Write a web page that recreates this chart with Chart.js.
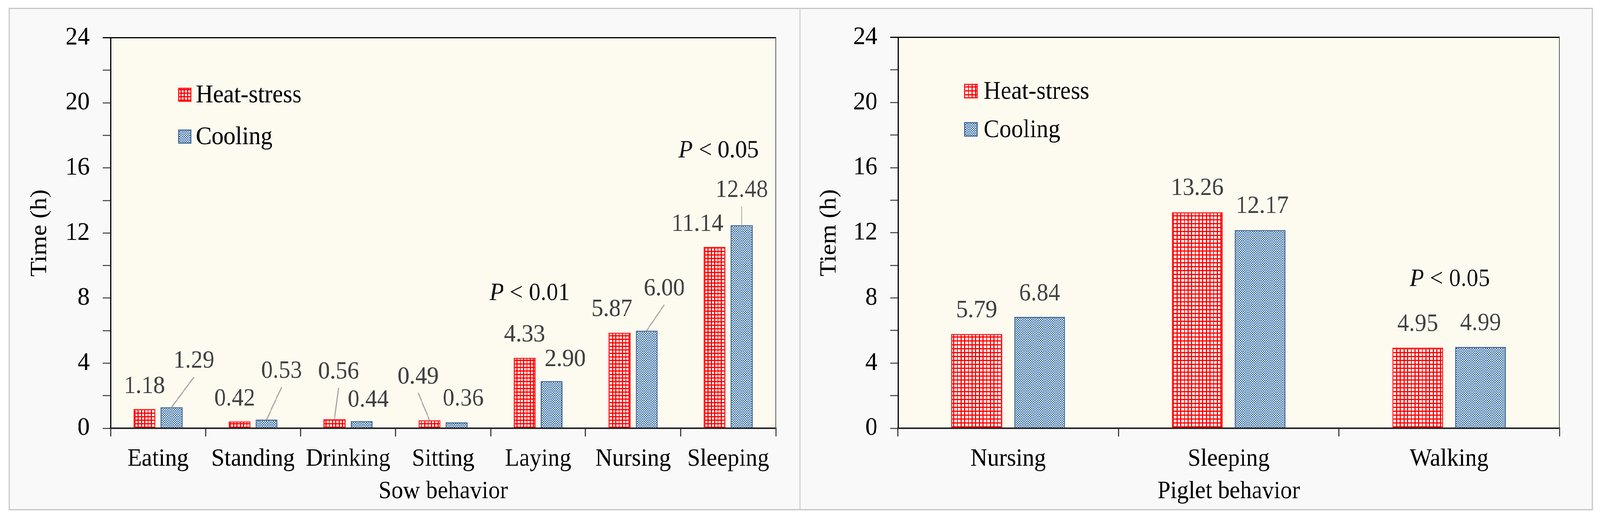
<!DOCTYPE html>
<html>
<head>
<meta charset="utf-8">
<script src="https://cdn.jsdelivr.net/npm/chart.js@4/dist/chart.umd.min.js"></script>
<style>
html,body{margin:0;padding:0;background:#ffffff;overflow:hidden;}
#stage{position:absolute;left:0;top:0;width:4371px;height:1336px;transform-origin:0 0;background:#ffffff;}
.panel{position:absolute;box-sizing:border-box;border:3px solid #c4c4c4;background:#f9f9f9;}
canvas{position:absolute;}
</style>
</head>
<body>
<div id="stage">
<div class="panel" style="left:24px;top:20px;width:2163px;height:1286px"></div>
<div class="panel" style="left:2184px;top:20px;width:2168px;height:1286px"></div>
<canvas id="sow" width="2161" height="1283" style="left:25px;top:21px"></canvas>
<canvas id="piglet" width="2166" height="1283" style="left:2184px;top:21px"></canvas>
</div>
<script>
// ---------------- data ----------------
const seriesNames = ['Heat-stress', 'Cooling'];
const sowCategories = ['Eating', 'Standing', 'Drinking', 'Sitting', 'Laying', 'Nursing', 'Sleeping'];
const sowHeatStress = [1.18, 0.42, 0.56, 0.49, 4.33, 5.87, 11.14];
const sowCooling = [1.29, 0.53, 0.44, 0.36, 2.90, 6.00, 12.48];
const sowSignificance = ['', '', '', '', '0.01', '', '0.05'];
const pigletCategories = ['Nursing', 'Sleeping', 'Walking'];
const pigletHeatStress = [5.79, 13.26, 4.95];
const pigletCooling = [6.84, 12.17, 4.99];
const pigletSignificance = ['', '', '0.05'];
const yTickLabels = [0, 4, 8, 12, 16, 20, 24];
const sowTitles = {x: 'Sow behavior', y: 'Time (h)'};
const pigletTitles = {x: 'Piglet behavior', y: 'Tiem (h)'};

const SERIF = "'Liberation Serif', 'Times New Roman', serif";

// fill the viewport with the 4371x1336 stage
function fitStage() {
  const st = document.getElementById('stage');
  const w = window.innerWidth || document.documentElement.clientWidth || 4371;
  const h = window.innerHeight || document.documentElement.clientHeight || 1336;
  const kx = w / 4371, ky = h / 1336;
  st.style.transform = (Math.abs(kx - 1) < 0.001 && Math.abs(ky - 1) < 0.001) ? 'none' : 'scale(' + kx + ',' + ky + ')';
}
fitStage();
window.addEventListener('resize', fitStage);

function redGrid(ctx, cell, line) {
  const c = document.createElement('canvas');
  c.width = cell; c.height = cell;
  const g = c.getContext('2d');
  g.fillStyle = '#ffffff'; g.fillRect(0, 0, cell, cell);
  g.fillStyle = '#ff0000';
  g.fillRect(0, 0, cell, line);
  g.fillRect(0, 0, line, cell);
  return ctx.createPattern(c, 'repeat');
}
function blueChecker(ctx, s) {
  const c = document.createElement('canvas');
  c.width = s * 2; c.height = s * 2;
  const g = c.getContext('2d');
  g.fillStyle = '#ffffff'; g.fillRect(0, 0, s * 2, s * 2);
  g.fillStyle = '#1e5c9a';
  g.fillRect(0, 0, s, s);
  g.fillRect(s, s, s, s);
  return ctx.createPattern(c, 'repeat');
}

const panelDecor = {
  id: 'panelDecor',
  beforeDraw(chart, args, o) {
    const {ctx, chartArea: a} = chart;
    ctx.save();
    ctx.fillStyle = o.plotBg;
    ctx.fillRect(a.left, a.top, a.right - a.left, a.bottom - a.top);
    ctx.restore();
  },
  afterDatasetsDraw(chart, args, o) {
    const {ctx, chartArea: a} = chart;
    const xs = chart.scales.x;
    ctx.save();
    ctx.strokeStyle = '#262626'; ctx.lineWidth = 4;
    ctx.beginPath(); ctx.moveTo(a.left - 2, a.bottom); ctx.lineTo(a.right + 1, a.bottom); ctx.stroke();
    ctx.strokeStyle = '#000000'; ctx.lineWidth = 3;
    ctx.beginPath(); ctx.moveTo(a.left - 21, a.top); ctx.lineTo(a.right + 1, a.top); ctx.stroke();
    ctx.strokeStyle = '#5a5a5a'; ctx.lineWidth = 2;
    ctx.beginPath(); ctx.moveTo(a.right, a.top); ctx.lineTo(a.right, a.bottom + 21); ctx.stroke();

    ctx.textBaseline = 'alphabetic';
    const baselines = [];
    chart.data.datasets.forEach((ds, i) => {
      const meta = chart.getDatasetMeta(i);
      meta.data.forEach((bar, j) => {
        const p = o.placement[i][j];
        const x = bar.x + p.dx;
        const base = bar.y - p.gap;
        baselines[j] = Math.min(baselines[j] === undefined ? Infinity : baselines[j], base);
        if (p.leader) {
          ctx.strokeStyle = '#a6a6a6'; ctx.lineWidth = 3;
          ctx.beginPath(); ctx.moveTo(x, base + 24); ctx.lineTo(bar.x, bar.y); ctx.stroke();
        }
        ctx.fillStyle = '#404040';
        ctx.font = '64px ' + SERIF;
        ctx.textAlign = 'center';
        ctx.fillText(Number(ds.data[j]).toFixed(2), x, base);
      });
    });

    o.significance.forEach((txt, j) => {
      if (!txt) return;
      const s = o.sigPlacement[j];
      const cx = xs.getPixelForValue(j) + s.dx;
      const base = baselines[j] - s.rise;
      const pFont = 'italic 64px ' + SERIF;
      const rFont = '64px ' + SERIF;
      const rest = ' < ' + txt;
      ctx.font = pFont; const wP = ctx.measureText('P').width;
      ctx.font = rFont; const wR = ctx.measureText(rest).width;
      const x0 = cx - (wP + wR) / 2;
      ctx.textAlign = 'left';
      ctx.fillStyle = '#111111';
      ctx.font = pFont; ctx.fillText('P', x0, base);
      ctx.font = rFont; ctx.fillText(rest, x0 + wP, base);
    });

    const L = o.legend;
    chart.data.datasets.forEach((ds, i) => {
      const bx = a.left + L.boxX;
      const bl = a.top + L.baselines[i];
      ctx.fillStyle = ds.backgroundColor;
      ctx.fillRect(bx, bl - L.size - 1, L.size, L.size);
      ctx.strokeStyle = ds.borderColor; ctx.lineWidth = 3;
      ctx.strokeRect(bx + 1.5, bl - L.size - 1 + 1.5, L.size - 3, L.size - 3);
      ctx.fillStyle = '#000000';
      ctx.font = '65px ' + SERIF;
      ctx.textAlign = 'left';
      ctx.fillText(ds.label, a.left + L.textX, bl);
    });
    ctx.restore();
  }
};

function makeChart(id, cats, hs, co, sig, titles, cfg) {
  const canvas = document.getElementById(id);
  const ctx = canvas.getContext('2d');
  return new Chart(canvas, {
    type: 'bar',
    data: {
      labels: cats,
      datasets: [
        {label: seriesNames[0], data: hs, backgroundColor: redGrid(ctx, cfg.cell, 3),
         borderColor: '#ff1a1a', borderWidth: 3, categoryPercentage: 0.57, barPercentage: 0.81},
        {label: seriesNames[1], data: co, backgroundColor: blueChecker(ctx, 3),
         borderColor: '#4a6f98', borderWidth: 3, categoryPercentage: 0.57, barPercentage: 0.81}
      ]
    },
    options: {
      responsive: false,
      animation: false,
      devicePixelRatio: 1,
      events: [],
      layout: {padding: {left: 0, top: 73, right: cfg.right, bottom: 0}},
      plugins: {
        legend: {display: false},
        tooltip: {enabled: false},
        panelDecor: {
          plotBg: '#fdfaf0',
          placement: cfg.placement,
          significance: sig,
          sigPlacement: cfg.sigPlacement,
          legend: cfg.legend
        }
      },
      scales: {
        x: {
          grid: {offset: true, drawOnChartArea: false, drawTicks: true, tickLength: 21, color: '#404040', lineWidth: 3},
          border: {display: true, color: '#262626', width: 4},
          ticks: {color: '#000000', font: {family: SERIF, size: 64}, padding: 20, maxRotation: 0, autoSkip: false},
          title: {display: true, text: titles.x, color: '#000000', font: {family: SERIF, size: 64}, padding: {top: 0, bottom: 7}},
          afterFit(s) { s.height = 208; }
        },
        y: {
          min: 0, max: 24,
          ticks: {stepSize: 2, color: '#000000', font: {family: SERIF, size: 66}, padding: cfg.yPad,
                  callback: v => yTickLabels.includes(v) ? String(v) : ''},
          grid: {drawOnChartArea: false, drawTicks: true, tickLength: 21, color: '#595959', lineWidth: 3},
          border: {display: true, color: '#000000', width: 3},
          title: {display: true, text: titles.y, color: '#000000', font: {family: SERIF, size: 64}, padding: {top: cfg.yTitlePad, bottom: 0}},
          afterFit(s) { s.width = cfg.yWidth; }
        }
      }
    },
    plugins: [panelDecor]
  });
}

function init() {
  const D = (dx, gap, leader) => ({dx, gap, leader: !!leader});
  makeChart('sow', sowCategories, sowHeatStress, sowCooling, sowSignificance, sowTitles, {
    cell: 9, right: 67, yWidth: 277, yPad: 36, yTitlePad: 46,
    placement: [
      [D(0, 41), D(-13, 41), D(11, 104, 1), D(-31, 94, 1), D(0, 42), D(-21, 43), D(-47, 41)],
      [D(61, 101, 1), D(41, 107, 1), D(18, 37), D(18, 43), D(37, 38), D(48, 90, 1), D(0, 72, 1)]
    ],
    sigPlacement: {4: {dx: -23, rise: 106}, 6: {dx: -26, rise: 101}},
    legend: {boxX: 185, textX: 233, size: 36, baselines: [165, 272]}
  });
  makeChart('piglet', pigletCategories, pigletHeatStress, pigletCooling, pigletSignificance, pigletTitles, {
    cell: 10, right: 90, yWidth: 269, yPad: 35, yTitlePad: 44,
    placement: [
      [D(0, 43), D(0, 44), D(0, 43)],
      [D(0, 42), D(6, 44), D(0, 43)]
    ],
    sigPlacement: {2: {dx: 2, rise: 113}},
    legend: {boxX: 181, textX: 234, size: 37, baselines: [157, 255]}
  });
}

if (document.fonts && document.fonts.load) {
  Promise.all([
    document.fonts.load('64px "Liberation Serif"'),
    document.fonts.load('italic 64px "Liberation Serif"')
  ]).then(init, init);
} else {
  init();
}
</script>
</body>
</html>
